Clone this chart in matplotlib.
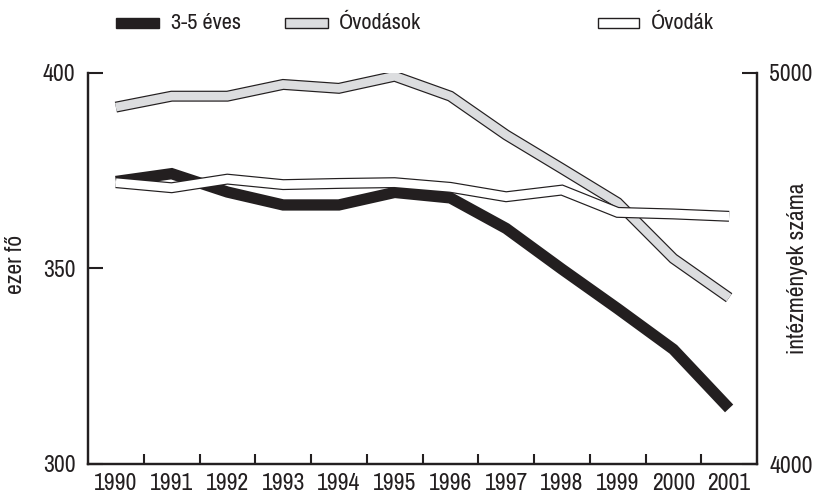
import matplotlib
matplotlib.use("Agg")
import matplotlib.pyplot as plt
from matplotlib.patches import Rectangle
from matplotlib import font_manager

years = ["1990", "1991", "1992", "1993", "1994", "1995", "1996", "1997", "1998", "1999", "2000", "2001"]
eves_3_5 = [372.2, 374.2, 369.5, 366.2, 366.2, 369.4, 368.0, 360.2, 349.8, 339.7, 329.3, 314.2]
ovodasok = [391.2, 394.0, 394.0, 397.0, 396.0, 399.1, 394.0, 384.1, 375.5, 366.8, 352.5, 342.5]
ovodak = [4719, 4706, 4728, 4714, 4717, 4719, 4707, 4683, 4700, 4643, 4639, 4633]

# pick a condensed font if one is available
fonts = font_manager.fontManager.ttflist
names = sorted(set(f.name for f in fonts))
fam = None
stretch = "normal"
for key in ("Narrow", "Condensed"):
    c = [n for n in names if key in n]
    if c:
        fam = c[0]
        break
if fam is None:
    dj = [f for f in fonts if f.name == "DejaVu Sans" and str(f.stretch) in ("condensed", "semi-condensed")]
    if dj:
        fam = "DejaVu Sans"
        stretch = "condensed"
if fam is None:
    fam = "Liberation Sans"
    scale = 0.85
else:
    scale = 1.0
TICK_FS = 17 * scale
LAB_FS = 17 * scale
LEG_FS = 16 * scale

plt.rcParams["font.family"] = [fam, "DejaVu Sans"]
plt.rcParams["font.stretch"] = stretch

BLACK = "#231f20"
GRAY = "#dcdddf"

fig = plt.figure(figsize=(8.14, 4.94), dpi=100)
ax = fig.add_axes([88/814, 1 - 464/494, (757-88)/814, (464-72.7)/494])
ax2 = ax.twinx()

x = list(range(len(years)))
px = 72/100.0
outer = 11 * px
inner = 8.6 * px

ax.plot(x, eves_3_5, color=BLACK, lw=11.3*px, solid_joinstyle="miter", solid_capstyle="butt", zorder=2)
ax.plot(x, ovodasok, color=BLACK, lw=outer, solid_joinstyle="miter", solid_capstyle="butt", zorder=3)
ax.plot(x, ovodasok, color=GRAY, lw=inner, solid_joinstyle="miter", solid_capstyle="butt", zorder=4)
ax.set_zorder(1)
ax2.set_zorder(2)
ax2.plot(x, ovodak, color=BLACK, lw=outer, solid_joinstyle="miter", solid_capstyle="butt", zorder=3)
ax2.plot(x, ovodak, color="white", lw=inner, solid_joinstyle="miter", solid_capstyle="butt", zorder=4)
ax.patch.set_visible(False)
ax2.patch.set_visible(False)

ax.set_xlim(-0.5, len(years) - 0.5)
ax.set_ylim(300, 400)
ax2.set_ylim(4000, 5000)

ax.set_xticks(x)
ax.set_xticklabels(years)
ax.set_xticks([i + 0.5 for i in range(len(years) - 1)], minor=True)
ax.tick_params(axis="x", which="major", length=0, pad=6.5, labelsize=TICK_FS, colors=BLACK)
ax.tick_params(axis="x", which="minor", direction="in", length=7.5, width=1.5, color=BLACK)

ax.set_yticks([300, 350, 400])
ax.tick_params(axis="y", which="major", direction="in", length=11, width=1.5, pad=9, labelsize=TICK_FS, colors=BLACK)
ax2.set_yticks([4000, 5000])
ax2.tick_params(axis="y", which="major", direction="in", length=11, width=1.5, pad=9, labelsize=TICK_FS, colors=BLACK)

for a in (ax, ax2):
    a.spines["top"].set_visible(False)
    for s in ("left", "right", "bottom"):
        a.spines[s].set_linewidth(1.6)
        a.spines[s].set_color(BLACK)

ax.set_ylabel("ezer fő", fontsize=LAB_FS, color=BLACK)
ax.yaxis.set_label_coords((16 - 88) / 669, 0.51)
ax2.set_ylabel("intézmények száma", fontsize=LAB_FS, color=BLACK, rotation=90)
ax2.yaxis.set_label_coords((797 - 88) / 669, 0.50)
ax2.yaxis.label.set_va("center")
ax.yaxis.label.set_va("center")

# legend
ly = 1 - 23/494
sw_h = 9/494
items = [(116, 159, BLACK, BLACK, "3-5 éves", 171),
         (285, 328, GRAY, BLACK, "Óvodások", 339),
         (598, 639, "white", BLACK, "Óvodák", 651)]
for x0, x1, fc, ec, label, tx in items:
    fig.add_artist(Rectangle((x0/814, ly - sw_h/2), (x1-x0)/814, sw_h,
                             transform=fig.transFigure, facecolor=fc, edgecolor=ec, lw=1.0))
    fig.text(tx/814, ly, label, fontsize=LEG_FS, va="center", ha="left", color=BLACK)

fig.savefig("out.png", dpi=100)
